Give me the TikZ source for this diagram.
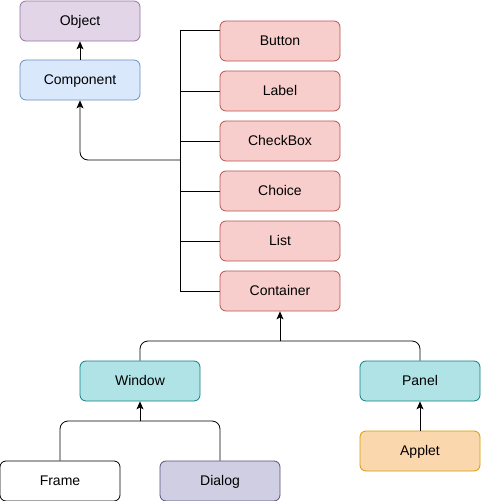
\documentclass[tikz,border=0pt]{standalone}
\usepackage{fontspec}
\setmainfont{Liberation Sans}
\usetikzlibrary{arrows.meta}
\definecolor{objF}{HTML}{E1D5E7}\definecolor{objD}{HTML}{9673A6}
\definecolor{comF}{HTML}{DAE8FC}\definecolor{comD}{HTML}{6C8EBF}
\definecolor{redF}{HTML}{F8CECC}\definecolor{redD}{HTML}{B85450}
\definecolor{tealF}{HTML}{B0E3E6}\definecolor{tealD}{HTML}{0E8088}
\definecolor{dlgF}{HTML}{D0CEE2}\definecolor{dlgD}{HTML}{56517E}
\definecolor{appF}{HTML}{FAD7AC}\definecolor{appD}{HTML}{D79B00}
\tikzset{
  box/.style={draw, rounded corners=6pt, minimum width=120pt, minimum height=40pt, inner sep=0pt, text height=9.5pt, text depth=0.5pt, line width=0.8pt, font=\fontsize{14}{16}\selectfont},
  objbox/.style={box, fill=objF, draw=objD},
  combox/.style={box, fill=comF, draw=comD},
  redbox/.style={box, fill=redF, draw=redD},
  tealbox/.style={box, fill=tealF, draw=tealD},
  dlgbox/.style={box, fill=dlgF, draw=dlgD},
  appbox/.style={box, fill=appF, draw=appD},
  whitebox/.style={box, fill=white, draw=black},
  conn/.style={draw=black, line width=0.8pt},
  arr/.style={conn, -{Stealth[length=8pt, width=7pt, inset=2pt]}}
}
\begin{document}
\begin{tikzpicture}[x=1pt, y=-1pt]
\useasboundingbox (0,0) rectangle (481,501);
\node[objbox] (object) at (80,21) {Object};
\node[combox] (component) at (80,80) {Component};
\node[redbox] (button) at (280,41) {Button};
\node[redbox] (label) at (280,91) {Label};
\node[redbox] (checkbox) at (280,141) {CheckBox};
\node[redbox] (choice) at (280,191) {Choice};
\node[redbox] (list) at (280,241) {List};
\node[redbox] (container) at (280,291) {Container};
\node[tealbox] (window) at (140,381) {Window};
\node[tealbox] (panel) at (420,381) {Panel};
\node[whitebox] (frame) at (60,481) {Frame};
\node[dlgbox] (dialog) at (220,481) {Dialog};
\node[appbox] (applet) at (420,451) {Applet};

\coordinate (bustop) at (180,30);
\coordinate (busbot) at (180,291);
\coordinate (junc) at (180,160);
\coordinate (h1) at (280,341);
\coordinate (h2) at (140,421);

\draw[arr] (component) -- (object);
\draw[conn] ([yshift=11pt]button.west) -- (bustop) -- (busbot) -- (container.west);
\draw[conn] (label.west) -- (label.west -| bustop);
\draw[conn] (checkbox.west) -- (checkbox.west -| bustop);
\draw[conn] (choice.west) -- (choice.west -| bustop);
\draw[conn] (list.west) -- (list.west -| bustop);
\draw[arr, rounded corners=8pt] (junc) -| (component.south);
\draw[conn, rounded corners=8pt] (window.north) |- (h1) -| (panel.north);
\draw[arr] (h1) -- (container.south);
\draw[conn, rounded corners=8pt] (frame.north) |- (h2) -| (dialog.north);
\draw[arr] (h2) -- (window.south);
\draw[arr] (applet) -- (panel);
\end{tikzpicture}
\end{document}
